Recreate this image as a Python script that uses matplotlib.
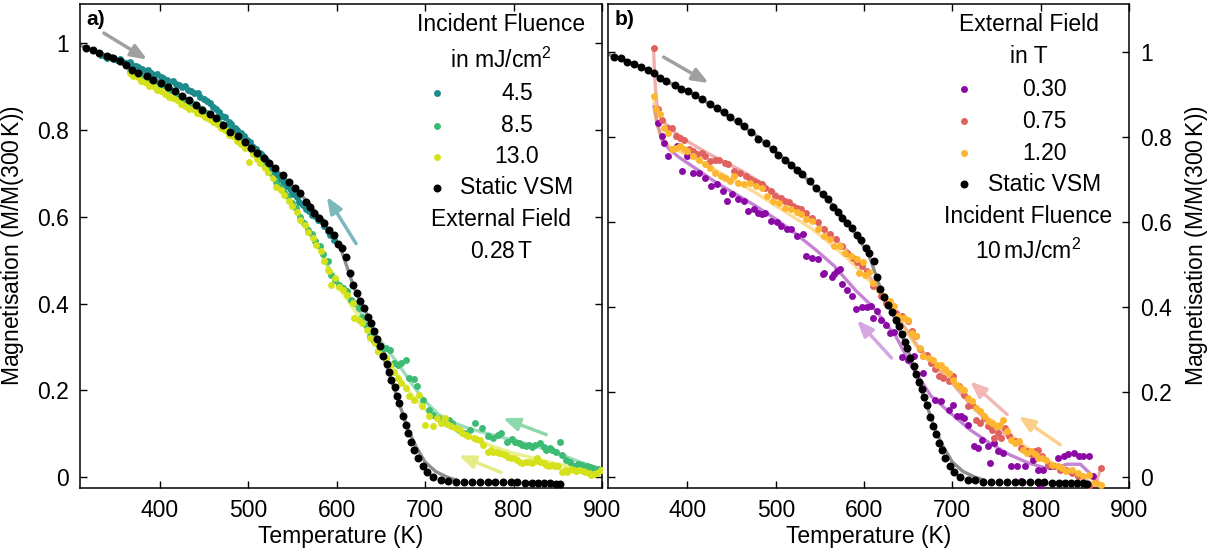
"""Magnetisation vs temperature: fluence series (a) and field series (b)."""

import matplotlib

matplotlib.use("Agg")
import matplotlib.pyplot as plt

# ---------------------------------------------------------------- data
# static VSM reference (shared by both panels)
vsm_T = [316.5, 324.5, 332, 340, 347, 355, 362, 368.6, 376, 385.4, 393, 401, 409, 417, 425,
         433.6, 441.5, 448, 457, 464, 472, 480, 489, 497, 503, 510, 517.5, 524, 530, 539,
         546, 553, 558.6, 565, 570.5, 575, 580.6, 586, 591.7, 597, 602, 606, 610.7, 615,
         618, 622.6, 627, 631.4, 636, 639, 642.5, 646, 649, 652, 656.6, 659, 662, 665.5,
         668, 671, 675, 678, 681, 684.5, 688, 692, 697.7, 702, 708.7, 717.6, 726, 735, 744,
         753, 762, 770.6, 779, 788, 797, 804, 812.5, 821, 828, 834.6, 841, 848, 853]
vsm_M = [0.988, 0.985, 0.977, 0.971, 0.965, 0.958, 0.95, 0.938, 0.931, 0.923, 0.914, 0.908,
         0.898, 0.89, 0.877, 0.869, 0.858, 0.846, 0.837, 0.827, 0.812, 0.795, 0.785, 0.771,
         0.758, 0.746, 0.735, 0.723, 0.712, 0.696, 0.679, 0.665, 0.654, 0.635, 0.623, 0.609,
         0.598, 0.585, 0.569, 0.558, 0.538, 0.527, 0.508, 0.47, 0.443, 0.424, 0.405, 0.389,
         0.37, 0.355, 0.336, 0.318, 0.303, 0.28, 0.261, 0.243, 0.224, 0.207, 0.187, 0.17,
         0.141, 0.121, 0.101, 0.081, 0.063, 0.044, 0.025, 0.011, 0.0, -0.006, -0.008, -0.011,
         -0.012, -0.012, -0.012, -0.012, -0.012, -0.012, -0.012, -0.012, -0.014, -0.014,
         -0.014, -0.014, -0.014, -0.015, -0.016]
vsm_fit_T = [310, 330, 350, 375, 400, 425, 450, 475, 500, 525, 550, 570, 590, 605, 620, 635,
             650, 660, 670, 680, 690, 700, 712, 725, 737]
vsm_fit_M = [0.995, 0.98, 0.963, 0.932, 0.908, 0.878, 0.844, 0.808, 0.765, 0.722, 0.671,
             0.628, 0.573, 0.525, 0.435, 0.372, 0.296, 0.235, 0.175, 0.113, 0.07, 0.035,
             0.013, 0.0, -0.008]

# panel a: incident fluence 4.5 mJ/cm2
f45_T = [331, 334, 338, 341, 345, 348, 352, 355, 359, 362, 366, 369, 373, 376, 380, 383, 387,
         390, 394, 397, 401, 404, 408, 411, 415, 418, 422, 425, 429, 432, 436, 439, 443, 446,
         450, 453, 457, 460, 464, 467, 471, 474, 478, 481, 485, 488, 492, 495, 499, 502, 506,
         509, 513, 516, 520, 523, 527, 530, 534, 537, 541, 544, 548, 551, 555, 558, 562, 565,
         569, 572, 576, 579, 583, 586, 590, 593, 597]
f45_M = [0.976, 0.973, 0.971, 0.966, 0.969, 0.963, 0.960, 0.964, 0.956, 0.954, 0.957, 0.950,
         0.947, 0.944, 0.941, 0.936, 0.938, 0.930, 0.927, 0.929, 0.922, 0.919, 0.916, 0.910,
         0.913, 0.905, 0.903, 0.898, 0.901, 0.892, 0.889, 0.884, 0.886, 0.876, 0.871, 0.866,
         0.862, 0.853, 0.847, 0.841, 0.833, 0.829, 0.818, 0.814, 0.805, 0.799, 0.792, 0.786,
         0.776, 0.771, 0.760, 0.757, 0.746, 0.741, 0.730, 0.724, 0.713, 0.704, 0.696, 0.688,
         0.679, 0.671, 0.662, 0.652, 0.645, 0.635, 0.628, 0.617, 0.612, 0.604, 0.601, 0.593,
         0.590, 0.578, 0.566, 0.558, 0.546]
f45_fit_T = [331, 345, 360, 375, 390, 405, 420, 435, 450, 465, 480, 495, 510, 525, 540, 555,
             570, 585, 598]
f45_fit_M = [0.976, 0.967, 0.956, 0.944, 0.931, 0.918, 0.904, 0.89, 0.872, 0.845, 0.815,
             0.787, 0.755, 0.72, 0.682, 0.643, 0.611, 0.582, 0.545]

# panel a: incident fluence 8.5 mJ/cm2
f85_T = [366, 371, 376, 381, 386, 391, 395, 400, 404, 409, 413, 418, 422, 426, 430, 435, 439,
         444, 448, 453, 457, 462, 466, 471, 475, 479, 484, 488, 492, 497, 501, 505, 510, 514,
         519, 523, 528, 532, 537, 541, 545, 550, 554, 559, 563, 568, 572, 576, 581, 585, 590,
         594, 598, 603, 607, 612, 616, 620, 625, 629, 633, 638, 642, 647, 651, 656, 660, 665,
         669, 673, 678, 682, 687, 691, 698, 704, 709, 715, 722, 727, 731, 738, 744, 751, 757,
         764, 771, 777, 782, 786, 793, 798, 802, 806, 810, 814, 817, 821, 824, 830, 834, 837,
         841, 844, 848, 852, 855, 859, 864, 868, 873, 877, 883, 887, 890, 895, 899]
f85_M = [0.935, 0.929, 0.928, 0.921, 0.918, 0.911, 0.913, 0.905, 0.904, 0.896, 0.893, 0.883,
         0.878, 0.871, 0.866, 0.861, 0.859, 0.850, 0.847, 0.839, 0.836, 0.828, 0.824, 0.814,
         0.809, 0.799, 0.793, 0.783, 0.778, 0.769, 0.763, 0.749, 0.739, 0.726, 0.716, 0.704,
         0.697, 0.681, 0.670, 0.656, 0.647, 0.631, 0.620, 0.600, 0.586, 0.570, 0.559, 0.544,
         0.532, 0.513, 0.497, 0.466, 0.455, 0.443, 0.435, 0.428, 0.409, 0.401, 0.389, 0.370,
         0.350, 0.325, 0.313, 0.290, 0.286, 0.297, 0.293, 0.263, 0.259, 0.263, 0.270, 0.228,
         0.226, 0.209, 0.178, 0.155, 0.144, 0.136, 0.128, 0.131, 0.124, 0.109, 0.101, 0.109,
         0.124, 0.113, 0.094, 0.090, 0.097, 0.101, 0.082, 0.088, 0.082, 0.079, 0.075, 0.071,
         0.075, 0.069, 0.075, 0.078, 0.070, 0.063, 0.066, 0.063, 0.058, 0.082, 0.052, 0.040,
         0.036, 0.025, 0.030, 0.028, 0.025, 0.023, 0.021, 0.019, 0.017]
f85_fit_T = [366, 380, 400, 420, 440, 460, 480, 500, 520, 540, 560, 580, 595, 610, 625, 640,
             655, 670, 685, 700, 715, 730, 750, 775, 800, 825, 850, 875, 900]
f85_fit_M = [0.934, 0.923, 0.906, 0.881, 0.856, 0.826, 0.797, 0.763, 0.713, 0.658, 0.6, 0.532,
             0.465, 0.425, 0.385, 0.34, 0.3, 0.26, 0.215, 0.175, 0.145, 0.127, 0.112, 0.098,
             0.085, 0.072, 0.055, 0.035, 0.018]

# panel a: incident fluence 13.0 mJ/cm2
f130_T = [366, 370, 375, 379, 384, 388, 393, 397, 402, 406, 411, 415, 420, 424, 429, 433, 438,
          442, 447, 451, 456, 460, 465, 469, 474, 478, 483, 487, 492, 496, 501, 505, 510, 514,
          519, 523, 528, 532, 537, 541, 546, 550, 555, 559, 564, 568, 573, 577, 582, 586, 590,
          592, 594, 598, 603, 607, 612, 618, 620, 625, 629, 634, 638, 643, 647, 651, 656, 660,
          665, 669, 673, 678, 682, 687, 693, 696, 700, 704, 709, 713, 718, 722, 725, 729, 735,
          739, 742, 746, 749, 755, 758, 762, 766, 771, 774, 777, 781, 784, 788, 791, 794, 797,
          801, 804, 807, 810, 814, 817, 821, 824, 827, 830, 834, 837, 840, 844, 847, 850, 855,
          858, 861, 865, 868, 871, 874, 878, 881, 885, 888, 891, 894, 899]
f130_M = [0.930, 0.924, 0.921, 0.913, 0.910, 0.901, 0.900, 0.892, 0.889, 0.883, 0.876, 0.874,
          0.868, 0.860, 0.856, 0.847, 0.847, 0.839, 0.836, 0.829, 0.826, 0.819, 0.813, 0.805,
          0.800, 0.789, 0.785, 0.775, 0.768, 0.759, 0.725, 0.745, 0.732, 0.724, 0.712, 0.702,
          0.689, 0.668, 0.662, 0.649, 0.637, 0.624, 0.610, 0.593, 0.580, 0.564, 0.550, 0.534,
          0.520, 0.499, 0.478, 0.474, 0.443, 0.459, 0.439, 0.432, 0.420, 0.401, 0.366, 0.363,
          0.355, 0.339, 0.320, 0.309, 0.290, 0.282, 0.274, 0.259, 0.243, 0.228, 0.217, 0.205,
          0.186, 0.178, 0.190, 0.163, 0.121, 0.140, 0.117, 0.136, 0.124, 0.136, 0.122, 0.117,
          0.113, 0.108, 0.101, 0.097, 0.094, 0.090, 0.087, 0.086, 0.075, 0.059, 0.062, 0.059,
          0.057, 0.055, 0.053, 0.051, 0.046, 0.044, 0.043, 0.040, 0.036, 0.032, 0.036, 0.034,
          0.032, 0.038, 0.044, 0.036, 0.032, 0.029, 0.025, 0.027, 0.025, 0.025, 0.013, 0.016,
          0.013, 0.018, 0.017, 0.014, 0.017, 0.015, 0.013, 0.010, 0.005, 0.007, 0.009, 0.017]
f130_fit_T = [366, 380, 400, 420, 440, 460, 480, 500, 520, 540, 560, 580, 595, 610, 625, 640,
              655, 670, 685, 700, 715, 730, 750, 775, 800, 825, 850, 875, 900]
f130_fit_M = [0.928, 0.916, 0.897, 0.87, 0.843, 0.821, 0.79, 0.755, 0.71, 0.655, 0.595, 0.528,
              0.462, 0.415, 0.37, 0.32, 0.275, 0.232, 0.19, 0.155, 0.13, 0.113, 0.094, 0.072,
              0.055, 0.043, 0.03, 0.02, 0.012]

# panel b: external field 0.30 T
b030_T = [367, 371.3, 373.5, 377.9, 388.1, 393.4, 400, 406.6, 413.3, 419.9, 426.5, 433.1,
          439.8, 444.2, 450.8, 457.4, 464, 468.5, 475.1, 479.5, 483.9, 488.3, 495, 501.6, 506,
          512.6, 517, 523.7, 530.3, 534.7, 541.3, 548, 553.3, 554.6, 563.4, 565.6, 569.2,
          572.3, 574.5, 581.1, 586.8, 591.3, 597.4, 603.2, 607.6, 609.8, 615.1, 618.6, 625.3,
          629.7, 634.1, 642.9, 649.6, 656.2, 667.2, 680.5, 687.1, 696, 700.4, 704.8, 709.2,
          713.6, 718, 724.6, 729, 733.5, 740.1, 742.3, 746.7, 751.1, 757.8, 766.6, 773.2,
          777.7, 782.1, 790.9, 797.5, 799.7, 802.8, 810.8, 819.6, 826.2, 830.6, 837.3, 843.9,
          848.3, 855, 859.4]
b030_M = [0.832, 0.802, 0.786, 0.755, 0.779, 0.72, 0.755, 0.716, 0.716, 0.704, 0.685, 0.689,
          0.673, 0.649, 0.665, 0.653, 0.649, 0.626, 0.63, 0.622, 0.618, 0.622, 0.603, 0.599,
          0.591, 0.583, 0.583, 0.567, 0.571, 0.52, 0.516, 0.513, 0.478, 0.481, 0.471, 0.477,
          0.484, 0.489, 0.453, 0.441, 0.427, 0.395, 0.4, 0.4, 0.402, 0.374, 0.39, 0.37, 0.358,
          0.339, 0.34, 0.282, 0.276, 0.284, 0.245, 0.182, 0.178, 0.158, 0.17, 0.143, 0.143,
          0.139, 0.123, 0.072, 0.068, 0.088, 0.072, 0.033, 0.08, 0.06, 0.056, 0.025, 0.025,
          -0.01, 0.025, 0.041, 0.017, -0.022, 0.017, 0.025, 0.045, 0.049, 0.053, 0.056, 0.049,
          0.049, 0.049, 0.002]
b030_fit_T = [362, 366, 371, 380, 390, 410, 433, 455, 477, 500, 521, 545, 566, 590, 610, 636,
              654, 676, 698, 720, 742, 764, 786, 804, 815, 830, 845, 855, 862]
b030_fit_M = [0.872, 0.83, 0.794, 0.77, 0.753, 0.725, 0.692, 0.665, 0.638, 0.607, 0.575, 0.535,
              0.497, 0.44, 0.4, 0.331, 0.26, 0.19, 0.15, 0.111, 0.08, 0.053, 0.033, 0.022, 0.02,
              0.03, 0.03, 0.01, -0.01]

# panel b: external field 0.75 T
b075_T = [361.6, 366.9, 371.3, 377.9, 382.3, 386.7, 391.2, 395.6, 402.2, 406.6, 411, 416.3,
          419.9, 425.6, 430.9, 435.3, 442, 446.4, 453, 459.6, 466.3, 470.7, 475.1, 479.5, 483.9,
          488.3, 495, 499.4, 506, 510.4, 514.8, 519.3, 523.7, 529, 534.7, 541.3, 548, 554.6,
          561.2, 567.8, 574.5, 581, 587.7, 592, 597.4, 603.2, 609.8, 618.6, 625.3, 631.9, 636.3,
          642.9, 649.6, 654, 658.4, 662.8, 667.2, 671.6, 676, 680.5, 684.9, 689.3, 696, 700.4,
          707, 713.6, 718, 722.4, 726.9, 731.3, 735.7, 740.1, 744.5, 746.7, 751.1, 755.6, 760,
          764.4, 771, 777.7, 784.3, 788.7, 793.1, 797.5, 802, 808.6, 815.2, 821.8, 828.4, 835.1,
          841.7, 848.3, 855, 861.6, 868.2]
b075_M = [1.009, 0.865, 0.841, 0.822, 0.822, 0.802, 0.798, 0.794, 0.771, 0.767, 0.759, 0.763,
          0.755, 0.743, 0.747, 0.747, 0.739, 0.736, 0.72, 0.716, 0.708, 0.7, 0.696, 0.692, 0.689,
          0.681, 0.673, 0.661, 0.657, 0.65, 0.646, 0.638, 0.634, 0.63, 0.622, 0.61, 0.599,
          0.583, 0.571, 0.559, 0.544, 0.528, 0.516, 0.505, 0.497, 0.485, 0.449, 0.425, 0.409,
          0.402, 0.386, 0.378, 0.366, 0.343, 0.331, 0.3, 0.284, 0.288, 0.268, 0.253, 0.237,
          0.233, 0.225, 0.237, 0.213, 0.194, 0.166, 0.17, 0.135, 0.127, 0.139, 0.119, 0.111,
          0.092, 0.104, 0.092, 0.115, 0.096, 0.084, 0.068, 0.06, 0.053, 0.06, 0.064, 0.049,
          0.029, 0.025, 0.017, 0.017, 0.009, 0.002, -0.014, -0.022, -0.014, 0.021]
b075_fit_T = [361.6, 362.5, 363.5, 365, 367, 370, 375, 385, 400, 420, 440, 460, 480, 500, 520,
              540, 560, 580, 600, 620, 640, 660, 680, 700, 720, 740, 760, 780, 800, 820, 840,
              855, 862, 868]
b075_fit_M = [1.009, 0.96, 0.92, 0.885, 0.86, 0.845, 0.832, 0.812, 0.79, 0.765, 0.743, 0.722,
              0.697, 0.667, 0.637, 0.608, 0.573, 0.535, 0.49, 0.43, 0.37, 0.31, 0.262, 0.22,
              0.172, 0.13, 0.1, 0.07, 0.045, 0.022, 0.005, -0.012, -0.018, 0.02]

# panel b: external field 1.20 T
b120_T = [361.6, 364.7, 369.1, 373.5, 377.9, 382.3, 386.7, 391.2, 395.6, 400, 406.6, 413.3,
          419.9, 425.6, 430.9, 437.5, 442, 448.6, 453, 457.4, 464, 470.7, 477.3, 483.9, 490.5,
          497.2, 503.8, 510.4, 517, 523.7, 528.1, 534.7, 541.3, 548, 554.6, 561.2, 565.6, 572.3,
          578.9, 585.5, 592.1, 594.3, 598.8, 601, 605.4, 609.8, 616.4, 623, 629.7, 634.1, 638.5,
          645.1, 649.6, 654, 658.4, 662.8, 667.2, 673.9, 678.3, 682.7, 687.1, 691.5, 696, 700.4,
          704.8, 709.2, 713.6, 718, 722.4, 726.9, 731.3, 735.7, 740.1, 744.5, 748.9, 753.4,
          757.8, 762.2, 766.6, 771, 775.4, 779.9, 784.3, 788.7, 793.1, 797.5, 802, 806.4, 813,
          819.6, 824, 828.4, 835, 841.7, 848.3, 855, 861.6, 868.2]
b120_M = [0.896, 0.865, 0.853, 0.822, 0.81, 0.771, 0.775, 0.779, 0.771, 0.767, 0.755, 0.747,
          0.736, 0.728, 0.716, 0.708, 0.704, 0.696, 0.708, 0.692, 0.689, 0.691, 0.685, 0.681,
          0.661, 0.649, 0.644, 0.634, 0.631, 0.623, 0.618, 0.606, 0.603, 0.583, 0.567, 0.559,
          0.544, 0.544, 0.528, 0.52, 0.513, 0.48, 0.505, 0.476, 0.483, 0.456, 0.441, 0.425,
          0.413, 0.402, 0.378, 0.374, 0.37, 0.339, 0.331, 0.304, 0.284, 0.28, 0.276, 0.264,
          0.264, 0.253, 0.245, 0.229, 0.217, 0.209, 0.205, 0.186, 0.178, 0.162, 0.155, 0.143,
          0.131, 0.127, 0.119, 0.123, 0.135, 0.107, 0.088, 0.08, 0.084, 0.064, 0.056, 0.06,
          0.053, 0.045, 0.045, 0.041, 0.029, 0.025, 0.021, 0.013, 0.017, 0.009, 0.002, 0.005,
          -0.014, -0.018]
b120_fit_T = [361.6, 363, 365, 368, 372, 380, 390, 400, 420, 440, 460, 480, 500, 520, 540, 560,
              580, 600, 620, 640, 660, 680, 700, 720, 740, 760, 780, 800, 820, 840, 860, 868]
b120_fit_M = [0.896, 0.86, 0.835, 0.812, 0.795, 0.778, 0.767, 0.758, 0.737, 0.712, 0.69, 0.665,
              0.638, 0.612, 0.585, 0.552, 0.517, 0.475, 0.43, 0.37, 0.305, 0.265, 0.228, 0.18,
              0.14, 0.11, 0.075, 0.048, 0.025, 0.01, -0.005, -0.015]

# direction arrows: (T_tail, M_tail, T_head, M_head)
arrows_a = [(337, 1.023, 386, 0.962), (622, 0.538, 589, 0.646),
            (837, 0.098, 788, 0.136), (786, 0.011, 738, 0.050)]
arrows_b = [(373, 0.988, 424, 0.927), (631, 0.280, 592, 0.369),
            (762, 0.147, 720, 0.225), (822, 0.076, 775, 0.143)]

# ---------------------------------------------------------------- style
plt.rcParams["font.family"] = ["Liberation Sans", "DejaVu Sans"]
plt.rcParams["font.size"] = 16.5
plt.rcParams["mathtext.fontset"] = "custom"
plt.rcParams["mathtext.rm"] = "Liberation Sans"
plt.rcParams["mathtext.it"] = "Liberation Sans:italic"

C_45, C_85, C_130 = "#1f8c8c", "#3dbb74", "#d5e21b"
C_030, C_075, C_120 = "#8b0aa5", "#e0615d", "#fdb62f"
ARROW_A = ["#a0a0a0", "#7ab8bb", "#8ed8ad", "#e6ec85"]
ARROW_B = ["#a0a0a0", "#d4a6e2", "#f2b8b6", "#fcd08a"]
S_DOT, S_VSM = 25, 33

YTICKS = [0, 0.2, 0.4, 0.6, 0.8, 1]
YLABELS = ["0", "0.2", "0.4", "0.6", "0.8", "1"]
XTICKS = [400, 500, 600, 700, 800, 900]
YLABEL = "Magnetisation (M/M(300$\\,$K))"

W, H = 1211, 551
fig = plt.figure(figsize=(W / 100, H / 100), dpi=100)
ax_a = fig.add_axes([80 / W, 1 - 488 / H, 522 / W, 484 / H])
ax_b = fig.add_axes([608 / W, 1 - 488 / H, 521 / W, 484 / H])


def style_axis(ax, ylim, right):
    ax.set_xlim(310, 900)
    ax.set_ylim(*ylim)
    ax.set_xticks(XTICKS)
    ax.set_yticks(YTICKS)
    ax.set_yticklabels(YLABELS)
    ax.tick_params(direction="in", top=True, right=True, length=5, width=1, pad=8,
                   labelleft=not right, labelright=right)
    for sp in ax.spines.values():
        sp.set_linewidth(1.1)
    ax.set_xlabel("Temperature (K)", labelpad=2)
    if right:
        ax.yaxis.set_label_position("right")
        ax.set_ylabel(YLABEL, rotation=90, labelpad=8)
    else:
        ax.set_ylabel(YLABEL, labelpad=8)


def fit(ax, T, M, color, alpha=0.5):
    ax.plot(T, M, color=color, lw=2.4, alpha=alpha, solid_capstyle="round", zorder=2)


def dots(ax, T, M, color, s=S_DOT):
    ax.scatter(T, M, s=s, color=color, linewidths=0, zorder=3)


def draw_arrows(ax, specs, colors):
    for (t0, m0, t1, m1), c in zip(specs, colors):
        ax.annotate("", xy=(t1, m1), xytext=(t0, m0),
                    arrowprops=dict(arrowstyle="-|>,head_length=0.8,head_width=0.32",
                                    mutation_scale=12, color=c, lw=2.5,
                                    shrinkA=0, shrinkB=0), zorder=4)


def key(ax, rows):
    # rows: (y, text, colour or None for header lines)
    for y, text, color in rows:
        if color is None:
            ax.text(0.807, y, text, transform=ax.transAxes, ha="center", va="center")
        else:
            ax.text(0.837, y, text, transform=ax.transAxes, ha="center", va="center")
            ax.scatter([0.684], [y], s=S_VSM if color == "k" else S_DOT, color=color,
                       transform=ax.transAxes, linewidths=0, clip_on=False, zorder=5)


# ---------------------------------------------------------------- panel a
style_axis(ax_a, (-0.025, 1.09), right=False)
fit(ax_a, vsm_fit_T, vsm_fit_M, "#7a7a7a", alpha=0.85)
fit(ax_a, f45_fit_T, f45_fit_M, C_45)
fit(ax_a, f85_fit_T, f85_fit_M, C_85)
fit(ax_a, f130_fit_T, f130_fit_M, C_130)
dots(ax_a, f85_T, f85_M, C_85)
dots(ax_a, f130_T, f130_M, C_130)
dots(ax_a, f45_T, f45_M, C_45)
dots(ax_a, vsm_T, vsm_M, "k", s=S_VSM)
draw_arrows(ax_a, arrows_a, ARROW_A)
key(ax_a, [(0.957, "Incident Fluence", None), (0.884, "in mJ/cm$^2$", None),
           (0.816, "4.5", C_45), (0.748, "8.5", C_85), (0.684, "13.0", C_130),
           (0.620, "Static VSM", "k"), (0.554, "External Field", None),
           (0.488, "0.28$\\,$T", None)])
ax_a.text(0.012, 0.988, "a)", transform=ax_a.transAxes, ha="left", va="top",
          fontsize=15, fontweight="bold")

# ---------------------------------------------------------------- panel b
style_axis(ax_b, (-0.026, 1.113), right=True)
fit(ax_b, vsm_fit_T, vsm_fit_M, "#7a7a7a", alpha=0.85)
fit(ax_b, b030_fit_T, b030_fit_M, C_030)
fit(ax_b, b075_fit_T, b075_fit_M, C_075)
fit(ax_b, b120_fit_T, b120_fit_M, C_120)
dots(ax_b, b030_T, b030_M, C_030)
dots(ax_b, b075_T, b075_M, C_075)
dots(ax_b, b120_T, b120_M, C_120)
dots(ax_b, vsm_T, vsm_M, "k", s=S_VSM)
draw_arrows(ax_b, arrows_b, ARROW_B)
key(ax_b, [(0.957, "External Field", None), (0.891, "in T", None),
           (0.824, "0.30", C_030), (0.758, "0.75", C_075), (0.692, "1.20", C_120),
           (0.628, "Static VSM", "k"), (0.560, "Incident Fluence", None),
           (0.490, "10$\\,$mJ/cm$^2$", None)])
ax_b.text(0.012, 0.988, "b)", transform=ax_b.transAxes, ha="left", va="top",
          fontsize=15, fontweight="bold")

fig.savefig("out.png", dpi=100)
